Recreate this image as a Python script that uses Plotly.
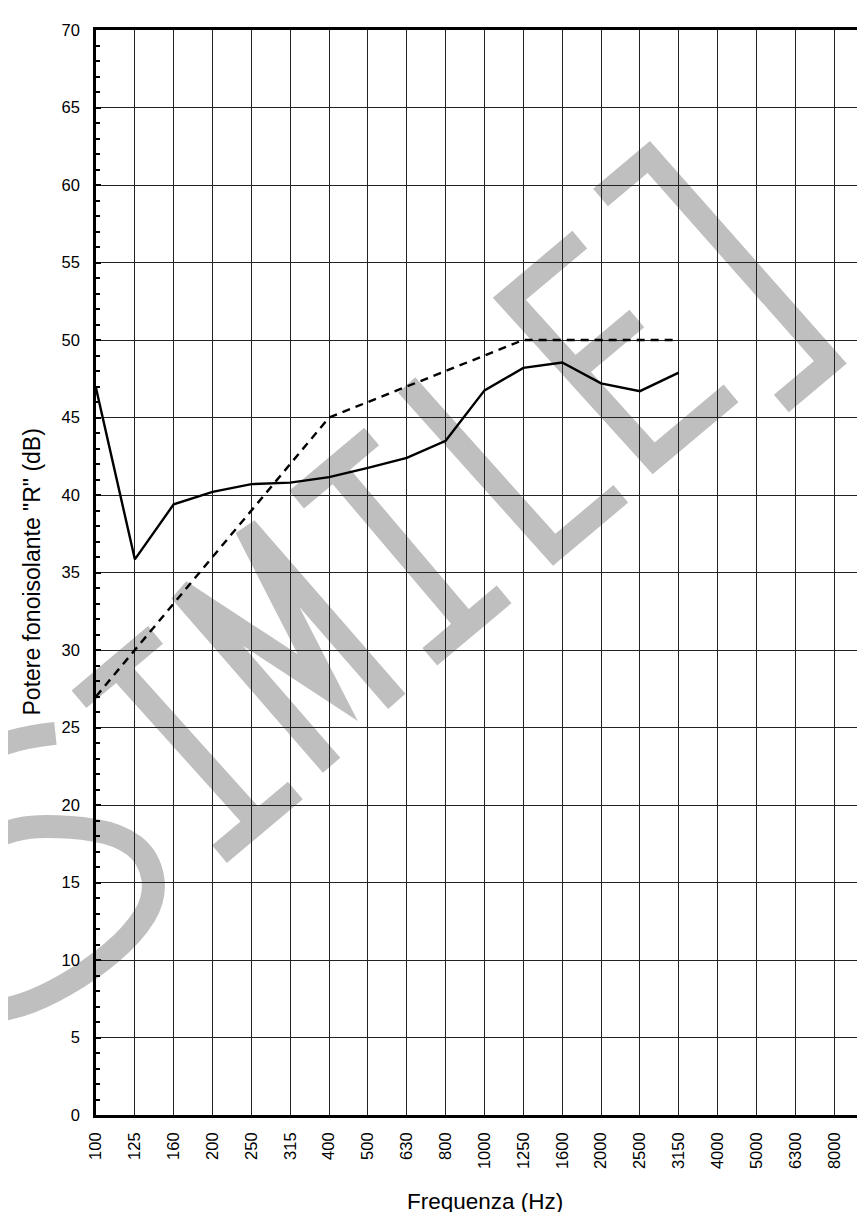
import plotly.graph_objects as go

# ---------------- data ----------------
freq_labels = ["100", "125", "160", "200", "250", "315", "400", "500", "630", "800",
               "1000", "1250", "1600", "2000", "2500", "3150", "4000", "5000",
               "6300", "8000", "10000"]
measured_freqs = freq_labels[:16]
measured_R = [46.9, 35.85, 39.4, 40.2, 40.7, 40.8, 41.15, 41.75, 42.4, 43.5,
              46.75, 48.2, 48.55, 47.2, 46.7, 47.9]
reference_R = [27, 30, 33, 36, 39, 42, 45, 46, 47, 48, 49, 50, 50, 50, 50, 50]
y_tick_vals = list(range(0, 75, 5))

# ---------------- layout geometry ----------------
W, H = 865, 1212
ML, MR, MT, MB = 88, 0, 22, 105
PW, PH = W - ML - MR, H - MT - MB
FONT = "Liberation Sans, Arial, sans-serif"
WM_COLOR = "#bfbfbf"

# ---------------- watermark ("SIMILE]") ----------------
UX, UY = 0.766, -0.643
VX, VY = -0.643, -0.766


def frame(a, b):
    c = b - 766
    return a * UX + c * VX, a * UY + c * VY


def paper(x, y):
    return (x - ML) / PW, (MT + PH - y) / PH


def pt(a, b):
    x, y = paper(*frame(a, b))
    return f"{x:.5f},{y:.5f}"


def poly(points):
    return "M " + " L ".join(pt(a, b) for a, b in points)


def smooth(points):
    s = "M " + pt(*points[0])
    for i in range(1, len(points) - 1):
        a0, b0 = points[i]
        a1, b1 = points[i + 1]
        s += " Q " + pt(a0, b0) + " " + pt((a0 + a1) / 2, (b0 + b1) / 2)
    s += " L " + pt(*points[-1])
    return s


wm_paths = [
    # S
    smooth([(-430, 180), (-470, 207), (-530, 217), (-590, 205), (-625, 172),
            (-600, 150), (-526, 138), (-480, 101), (-446, 62), (-438, 25),
            (-458, -10), (-500, -24), (-556, -24), (-612, -14), (-650, 2), (-675, 25)]),
    # I
    poly([(-390, 191), (-290, 191)]),
    poly([(-340, 191), (-333, -18)]),
    poly([(-382, -18), (-283, -18)]),
    # M
    poly([(-239, -22), (-243, 209), (-192, 40), (-152, 215), (-148, -15)]),
    # I
    poly([(-95, 204), (3, 204)]),
    poly([(-46, 204), (-45, -2)]),
    poly([(-94, -2), (3, -2)]),
    # L
    poly([(63, 221), (70, 0), (157, 0)]),
    # E
    poly([(289, 221), (197, 221), (205, 6), (306, 6)]),
    poly([(203, 124), (282, 124)]),
    # ]
    poly([(332, 240), (395, 240), (402, -34), (338, -34)]),
]

shapes = [dict(type="path", xref="paper", yref="paper", path=p,
               line=dict(color=WM_COLOR, width=23),
               fillcolor="rgba(0,0,0,0)", layer="below")
          for p in wm_paths]

# ---------------- figure ----------------
fig = go.Figure()
fig.add_trace(go.Scatter(x=measured_freqs, y=reference_R, mode="lines",
                         line=dict(color="black", width=2.4, dash="8px,6px"),
                         showlegend=False, hoverinfo="skip"))
fig.add_trace(go.Scatter(x=measured_freqs, y=measured_R, mode="lines",
                         line=dict(color="black", width=2.4),
                         showlegend=False, hoverinfo="skip"))

fig.update_layout(
    width=W, height=H,
    margin=dict(l=ML, r=MR, t=MT, b=MB, autoexpand=False),
    paper_bgcolor="white",
    plot_bgcolor="rgba(0,0,0,0)",
    font=dict(family=FONT, color="black"),
    shapes=shapes,
    showlegend=False,
    xaxis=dict(
        type="category",
        categoryorder="array",
        categoryarray=freq_labels,
        tickmode="array",
        tickvals=freq_labels,
        ticktext=freq_labels,
        range=[0, 20],
        showgrid=True, gridcolor="#222222", gridwidth=1.1,
        showline=True, linecolor="black", linewidth=2.6, mirror=True,
        ticks="", tickangle=-90,
        tickfont=dict(family=FONT, size=16.5, color="black"),
        ticklabelstandoff=8,
        zeroline=False,
    ),
    yaxis=dict(
        range=[0, 70],
        tickmode="array",
        tickvals=y_tick_vals,
        showgrid=True, gridcolor="#222222", gridwidth=1.1,
        showline=True, linecolor="black", linewidth=2.6,
        ticks="inside", ticklen=5, tickwidth=1.5, tickcolor="black",
        minor=dict(dtick=1, ticks="inside", ticklen=4, tickwidth=1.5,
                   tickcolor="black", showgrid=False),
        tickfont=dict(family=FONT, size=16.5, color="black"),
        ticklabelstandoff=10,
        zeroline=False,
    ),
    annotations=[
        dict(text="Frequenza (Hz)", xref="paper", yref="paper",
             x=0.5, y=(MT + PH - 1193) / PH, xanchor="center", yanchor="middle",
             showarrow=False, font=dict(family=FONT, size=22.5, color="black")),
        dict(text='Potere fonoisolante "R" (dB)', xref="paper", yref="paper",
             x=(23 - ML) / PW, y=0.5, xanchor="center", yanchor="middle",
             textangle=-90, showarrow=False,
             font=dict(family=FONT, size=23, color="black")),
    ],
)

fig.write_html("out.html")
